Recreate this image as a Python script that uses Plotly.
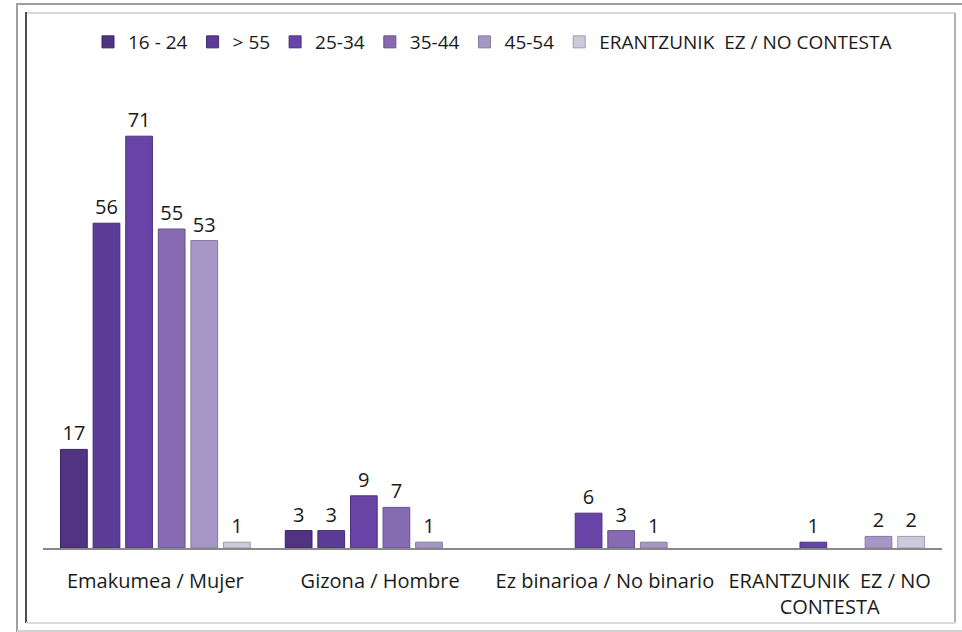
import plotly.graph_objects as go

categories = ["Emakumea / Mujer", "Gizona / Hombre", "Ez binarioa / No binario", "ERANTZUNIK  EZ / NO<br>CONTESTA"]
series_names = ["16 - 24", "> 55", "25-34", "35-44", "45-54", "ERANTZUNIK  EZ / NO CONTESTA"]
values_16_24 = [17, 3, None, None]
values_gt55 = [56, 3, None, None]
values_25_34 = [71, 9, 6, 1]
values_35_44 = [55, 7, 3, None]
values_45_54 = [53, 1, 1, 2]
values_nc = [1, None, None, 2]
series_values = [values_16_24, values_gt55, values_25_34, values_35_44, values_45_54, values_nc]
colors = ["#503381", "#5b3c96", "#6744a6", "#866bb2", "#a797c6", "#cdc8dc"]
line_colors = ["#3a2262", "#432b73", "#4c3282", "#64518c", "#847a9e", "#a09bb0"]

W, H = 962, 632
L, R, T, B = 43, 20, 84, 84
PW, PH = W - L - R, H - T - B
FONT = "Open Sans, Noto Sans, sans-serif"

def px(x):
    return (x - L) / PW

def py(y):
    return (H - B - y) / PH

fig = go.Figure()
for name, vals, c, lc in zip(series_names, series_values, colors, line_colors):
    fig.add_trace(go.Bar(
        name=name, x=categories, y=vals,
        marker=dict(color=c, line=dict(color=lc, width=1)),
        text=[("" if v is None else str(v)) for v in vals],
        textposition="outside", cliponaxis=False, constraintext="none",
        textfont=dict(family=FONT, size=20, color="#1a1a1a"),
    ))

shapes = []
def line(x0, y0, x1, y1, color, width):
    shapes.append(dict(type="line", xref="paper", yref="paper",
                       x0=px(x0), y0=py(y0), x1=px(x1), y1=py(y1),
                       line=dict(color=color, width=width)))

# outer frame
line(16, 4, 962, 4, "#a0a0a0", 2)
line(17, 4, 17, 632, "#a0a0a0", 2)
line(17, 631, 962, 631, "#d0d0d0", 2)
# inner frame
line(26, 13, 955, 13, "#d8d8d8", 2)
line(26, 12, 26, 623, "#505050", 2)
line(955, 13, 955, 623, "#b0b0b0", 2)
line(26, 623, 955, 623, "#dadada", 2)

fig.update_layout(
    width=W, height=H,
    margin=dict(l=L, r=R, t=T, b=B),
    paper_bgcolor="white", plot_bgcolor="white",
    barmode="group", bargap=0.13, bargroupgap=0.18,
    font=dict(family=FONT, size=20, color="#1a1a1a"),
    showlegend=True,
    legend=dict(orientation="h", x=0.5, xanchor="center", y=py(42), yanchor="middle",
                font=dict(family=FONT, size=19, color="#1a1a1a"), itemwidth=30,
                traceorder="normal", itemclick=False, itemdoubleclick=False),
    xaxis=dict(showline=True, linecolor="#888888", linewidth=1.5, ticks="",
               tickfont=dict(family=FONT, size=20, color="#1a1a1a"), showgrid=False,
               fixedrange=True, ticklabelstandoff=14),
    yaxis=dict(range=[0, 80], visible=False, showgrid=False, fixedrange=True),
    shapes=shapes,
)

fig.write_html("out.html", config={"displayModeBar": False},
               post_script="document.body.style.margin='0';")
